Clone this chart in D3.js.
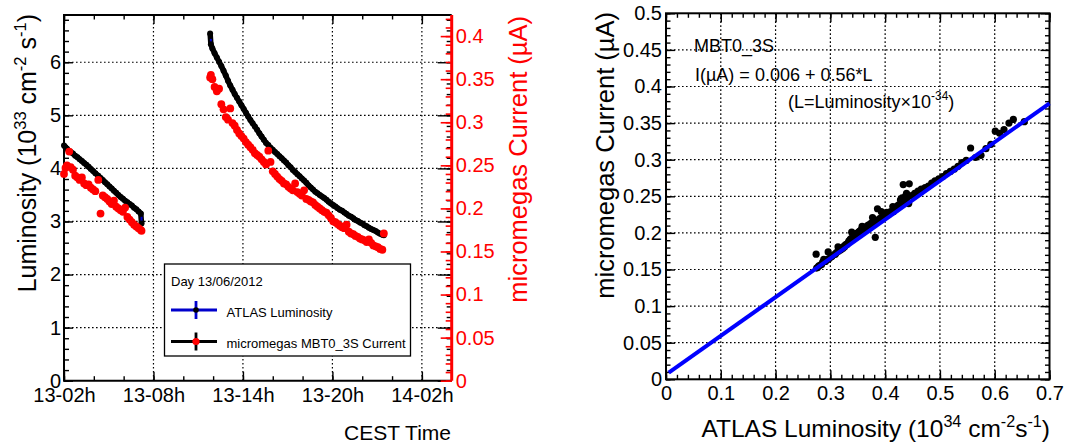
<!DOCTYPE html>
<html>
<head>
<meta charset="utf-8">
<script src="https://cdn.jsdelivr.net/npm/d3@7"></script>
<style>
body { margin: 0; background: #fff; }
svg text { font-family: 'Liberation Sans', Arial, Helvetica, sans-serif; }
</style>
</head>
<body>
<div id="chart"></div>
<script>
/* eslint-disable one-var */

// hours since 13/06/2012 00:00 CEST
var fill1Hours = [2.00, 2.10, 2.20, 2.35, 2.45, 2.60, 2.75, 2.90, 3.05, 3.20,
    3.35, 3.50, 3.65, 3.80, 3.95, 4.10, 4.30, 4.45, 4.60, 4.75,
    4.90, 5.05, 5.20, 5.35, 5.50, 5.65, 5.80, 5.95, 6.10, 6.25,
    6.40, 6.55, 6.70, 6.85, 7.00, 7.15, 7.20];
var fill1Lumi = [4.43, 4.40, 4.37, 4.33, 4.31, 4.28, 4.24, 4.21, 4.17, 4.14,
    4.10, 4.07, 4.03, 3.99, 3.95, 3.91, 3.86, 3.82, 3.78, 3.74,
    3.70, 3.66, 3.62, 3.58, 3.54, 3.50, 3.46, 3.43, 3.39, 3.36,
    3.33, 3.30, 3.26, 3.23, 3.19, 3.15, 2.96];
var fill1Current = [0.240, 0.247, 0.250, 0.266, 0.248, 0.245, 0.238, 0.236, 0.233, 0.236,
    0.229, 0.227, 0.228, 0.224, 0.222, 0.220, 0.233, 0.194, 0.215, 0.213,
    0.211, 0.208, 0.205, 0.209, 0.202, 0.200, 0.198, 0.196, 0.201, 0.190,
    0.187, 0.184, 0.181, 0.179, 0.177, 0.175, 0.174];

var fill2Hours = [11.80, 11.85, 11.95, 12.10, 12.25, 12.40, 12.55, 12.70, 12.85, 13.00,
    13.15, 13.30, 13.45, 13.60, 13.75, 13.90, 14.05, 14.20, 14.35, 14.50,
    14.65, 14.80, 14.95, 15.10, 15.25, 15.40, 15.55, 15.70, 15.85, 16.00,
    16.15, 16.30, 16.45, 16.60, 16.75, 16.90, 17.05, 17.20, 17.35, 17.50,
    17.65, 17.80, 17.95, 18.10, 18.25, 18.40, 18.55, 18.70, 18.85, 19.00,
    19.15, 19.30, 19.45, 19.60, 19.75, 19.90, 20.05, 20.20, 20.35, 20.50,
    20.65, 20.80, 20.95, 21.10, 21.25, 21.40, 21.55, 21.70, 21.85, 22.00,
    22.15, 22.30, 22.45, 22.60, 22.75, 22.90, 23.05, 23.20, 23.35, 23.45];
var fill2Lumi = [6.54, 6.34, 6.26, 6.17, 6.09, 6.01, 5.93, 5.84, 5.75, 5.65,
    5.56, 5.48, 5.40, 5.33, 5.26, 5.19, 5.12, 5.05, 4.98, 4.91,
    4.85, 4.79, 4.73, 4.66, 4.60, 4.54, 4.48, 4.44, 4.39, 4.35,
    4.31, 4.27, 4.23, 4.19, 4.15, 4.11, 4.06, 4.02, 3.97, 3.93,
    3.89, 3.85, 3.81, 3.77, 3.73, 3.68, 3.64, 3.60, 3.56, 3.53,
    3.50, 3.47, 3.44, 3.41, 3.37, 3.34, 3.31, 3.28, 3.25, 3.22,
    3.20, 3.17, 3.14, 3.11, 3.09, 3.06, 3.03, 3.01, 2.98, 2.96,
    2.93, 2.91, 2.88, 2.86, 2.84, 2.82, 2.79, 2.77, 2.75, 2.74];
var fill2Current = [0.352, 0.355, 0.350, 0.341, 0.336, 0.339, 0.321, 0.315, 0.306, 0.303,
    0.316, 0.299, 0.296, 0.291, 0.287, 0.284, 0.281, 0.277, 0.274, 0.271,
    0.268, 0.264, 0.262, 0.260, 0.257, 0.254, 0.251, 0.267, 0.254, 0.243,
    0.240, 0.237, 0.234, 0.232, 0.229, 0.228, 0.225, 0.223, 0.221, 0.229,
    0.219, 0.217, 0.215, 0.221, 0.211, 0.210, 0.208, 0.207, 0.204, 0.202,
    0.200, 0.198, 0.196, 0.195, 0.192, 0.189, 0.185, 0.184, 0.182, 0.180,
    0.178, 0.177, 0.181, 0.173, 0.171, 0.170, 0.168, 0.167, 0.165, 0.164,
    0.163, 0.161, 0.164, 0.160, 0.157, 0.156, 0.155, 0.153, 0.152, 0.171];

// blue error bars visible on the luminosity graph
var errHours = [7.20, 11.85];
var errLumi = [3.00, 6.34];
var errSize = [0.09, 0.10];

// linear fit drawn on the correlation plot (L in 1e34, current in uA)
var fitLine = [[0.005, 0.009], [0.7, 0.377]];

var timeTickHours = [2, 8, 14, 20, 26];
var lumiTicks = [0, 1, 2, 3, 4, 5, 6];
var currentTicks = [0, 0.05, 0.1, 0.15, 0.2, 0.25, 0.3, 0.35, 0.4];
var corrXTicks = [0, 0.1, 0.2, 0.3, 0.4, 0.5, 0.6, 0.7];
var corrYTicks = [0, 0.05, 0.1, 0.15, 0.2, 0.25, 0.3, 0.35, 0.4, 0.45, 0.5];

var legendTitle = 'Day 13/06/2012';
var legendLabels = ['ATLAS Luminosity', 'micromegas MBT0_3S Current'];

var FONT = "'Liberation Sans', Arial, Helvetica, sans-serif";
var TICK_FONT = 20;

function hourDate(h) {
    return new Date(2012, 5, 13, 0, 0, 0, 0).getTime() + h * 3600000;
}

function samples(hours, lumi, current) {
    return hours.map(function(h, i) {
        return { date: new Date(hourDate(h)), lumi: lumi[i], current: current[i] };
    });
}

var fills = [samples(fill1Hours, fill1Lumi, fill1Current),
    samples(fill2Hours, fill2Lumi, fill2Current)];
var allSamples = fills[0].concat(fills[1]);

var svg = d3.select('#chart')
    .append('svg')
    .attr('width', 1067)
    .attr('height', 445);

function richText(sel, parts, size) {
    parts.forEach(function(p, i) {
        var prevSup = i > 0 && parts[i - 1][1];
        var span = sel.append('tspan').text(p[0]);
        if (p[1]) {
            span.style('font-size', (size * 0.66) + 'px').attr('dy', -size * 0.42);
        } else if (prevSup) {
            span.attr('dy', size * 0.42);
        }
    });
}

function styleAxis(g, colour, width, showText) {
    g.attr('font-size', null).attr('font-family', null);
    g.select('.domain').remove();
    g.selectAll('.tick line').attr('stroke', colour).attr('stroke-width', width);
    if (showText) {
        g.selectAll('.tick text')
            .attr('fill', colour)
            .style('font-size', TICK_FONT + 'px')
            .style('font-family', FONT);
    } else {
        g.selectAll('.tick text').remove();
    }
}

function gridLines(g, data, x1, x2, y1, y2) {
    g.selectAll(null)
        .data(data)
        .enter()
        .append('line')
        .attr('x1', x1).attr('x2', x2)
        .attr('y1', y1).attr('y2', y2)
        .attr('stroke', '#000')
        .attr('stroke-width', 1.2)
        .attr('stroke-dasharray', '1.6,2.4');
}

// ---------------- left panel: time series ----------------
var L = { left: 64, right: 451.7, top: 15, bottom: 380.7 };

var xTime = d3.scaleTime()
    .domain([new Date(hourDate(2)), new Date(hourDate(28))])
    .range([L.left, L.right]);
var yLumi = d3.scaleLinear().domain([0, 6.89]).range([L.bottom, L.top]);
var yCur = d3.scaleLinear().domain([0, 0.4245]).range([L.bottom, L.top]);

var timeTicks = timeTickHours.map(function(h) { return new Date(hourDate(h)); });
var timeMinor = d3.timeHour.every(2).range(xTime.domain()[0], xTime.domain()[1]);

var left = svg.append('g');

gridLines(left, timeTicks.slice(1),
    function(d) { return xTime(d); }, function(d) { return xTime(d); },
    L.top, L.bottom);
gridLines(left, lumiTicks.slice(1),
    L.left, L.right,
    function(d) { return yLumi(d); }, function(d) { return yLumi(d); });

// bottom axis
left.append('g')
    .attr('transform', 'translate(0,' + L.bottom + ')')
    .call(d3.axisBottom(xTime).tickValues(timeMinor).tickSize(-4.5).tickFormat(''))
    .call(styleAxis, '#000', 1.4, false);
left.append('g')
    .attr('transform', 'translate(0,' + L.bottom + ')')
    .call(d3.axisBottom(xTime).tickValues(timeTicks).tickSize(-9).tickPadding(7)
        .tickFormat(d3.timeFormat('%d-%Hh')))
    .call(styleAxis, '#000', 1.4, true);
// top axis (ticks only)
left.append('g')
    .attr('transform', 'translate(0,' + L.top + ')')
    .call(d3.axisTop(xTime).tickValues(timeMinor).tickSize(-4.5).tickFormat(''))
    .call(styleAxis, '#000', 1.4, false);
left.append('g')
    .attr('transform', 'translate(0,' + L.top + ')')
    .call(d3.axisTop(xTime).tickValues(timeTicks).tickSize(-9).tickFormat(''))
    .call(styleAxis, '#000', 1.4, false);

// left luminosity axis
left.append('g')
    .attr('transform', 'translate(' + L.left + ',0)')
    .call(d3.axisLeft(yLumi).tickValues(d3.range(0, 6.81, 0.2)).tickSize(-5).tickFormat(''))
    .call(styleAxis, '#000', 1.4, false);
left.append('g')
    .attr('transform', 'translate(' + L.left + ',0)')
    .call(d3.axisLeft(yLumi).tickValues(lumiTicks).tickSize(-9).tickPadding(3)
        .tickFormat(d3.format('~g')))
    .call(styleAxis, '#000', 1.4, true);
// mirrored luminosity ticks on the right side
left.append('g')
    .attr('transform', 'translate(' + L.right + ',0)')
    .call(d3.axisRight(yLumi).tickValues(d3.range(0, 6.81, 0.2)).tickSize(-5).tickFormat(''))
    .call(styleAxis, '#000', 1.4, false);
left.append('g')
    .attr('transform', 'translate(' + L.right + ',0)')
    .call(d3.axisRight(yLumi).tickValues(lumiTicks).tickSize(-14).tickFormat(''))
    .call(styleAxis, '#000', 1.4, false);

// frame
left.append('path')
    .attr('d', 'M' + L.right + ',' + L.top + 'H' + L.left + 'V' + L.bottom + 'H' + L.right)
    .attr('fill', 'none')
    .attr('stroke', '#000')
    .attr('stroke-width', 2);

// red current axis
left.append('g')
    .attr('transform', 'translate(' + L.right + ',0)')
    .call(d3.axisRight(yCur).tickValues(d3.range(0, 0.421, 0.01)).tickSize(-6).tickFormat(''))
    .call(styleAxis, '#f00', 1.6, false);
left.append('g')
    .attr('transform', 'translate(' + L.right + ',0)')
    .call(d3.axisRight(yCur).tickValues(currentTicks).tickSize(-11).tickPadding(4)
        .tickFormat(d3.format('~g')))
    .call(styleAxis, '#f00', 1.6, true);
left.append('line')
    .attr('x1', L.right).attr('x2', L.right)
    .attr('y1', L.top).attr('y2', L.bottom)
    .attr('stroke', '#f00')
    .attr('stroke-width', 3);

// luminosity graph
var lumiLine = d3.line()
    .x(function(d) { return xTime(d.date); })
    .y(function(d) { return yLumi(d.lumi); });

left.append('g')
    .selectAll('path')
    .data(fills)
    .enter()
    .append('path')
    .attr('d', lumiLine)
    .attr('fill', 'none')
    .attr('stroke', '#000')
    .attr('stroke-width', 5.5);

left.append('g')
    .selectAll('line')
    .data(errHours)
    .enter()
    .append('line')
    .attr('x1', function(d) { return xTime(new Date(hourDate(d))); })
    .attr('x2', function(d) { return xTime(new Date(hourDate(d))); })
    .attr('y1', function(d, i) { return yLumi(errLumi[i] - errSize[i]); })
    .attr('y2', function(d, i) { return yLumi(errLumi[i] + errSize[i]); })
    .attr('stroke', '#0000cc')
    .attr('stroke-width', 2);

left.append('g')
    .selectAll('circle')
    .data(allSamples)
    .enter()
    .append('circle')
    .attr('cx', function(d) { return xTime(d.date); })
    .attr('cy', function(d) { return yLumi(d.lumi); })
    .attr('r', 3)
    .attr('fill', '#000');

// current graph
left.append('g')
    .selectAll('circle')
    .data(allSamples)
    .enter()
    .append('circle')
    .attr('cx', function(d) { return xTime(d.date); })
    .attr('cy', function(d) { return yCur(d.current); })
    .attr('r', 3.9)
    .attr('fill', '#f00');

// legend
var legend = left.append('g');
legend.append('rect')
    .attr('x', 164.5).attr('y', 264)
    .attr('width', 246).attr('height', 92)
    .attr('fill', '#fff')
    .attr('stroke', '#000')
    .attr('stroke-width', 1.3);
legend.append('text')
    .attr('x', 171).attr('y', 285.5)
    .style('font-size', '13px')
    .text(legendTitle);

var legendRows = [
    { label: legendLabels[0], line: '#0000cc', marker: '#000', r: 2.8, y: 310 },
    { label: legendLabels[1], line: '#000', marker: '#f00', r: 3.6, y: 341.5 }
];
var rows = legend.selectAll('.legend-row')
    .data(legendRows)
    .enter()
    .append('g')
    .classed('legend-row', true);
rows.append('line')
    .attr('x1', 171).attr('x2', 217)
    .attr('y1', function(d) { return d.y; }).attr('y2', function(d) { return d.y; })
    .attr('stroke', function(d) { return d.line; })
    .attr('stroke-width', 2.8);
rows.append('line')
    .attr('x1', 196).attr('x2', 196)
    .attr('y1', function(d) { return d.y - 9; }).attr('y2', function(d) { return d.y + 9; })
    .attr('stroke', function(d) { return d.line; })
    .attr('stroke-width', 2.8);
rows.append('circle')
    .attr('cx', 196)
    .attr('cy', function(d) { return d.y; })
    .attr('r', function(d) { return d.r; })
    .attr('fill', function(d) { return d.marker; });
rows.append('text')
    .attr('x', 226.5)
    .attr('y', function(d) { return d.y + 6.5; })
    .style('font-size', '13px')
    .text(function(d) { return d.label; });

// axis titles
var leftTitle = left.append('text')
    .attr('transform', 'translate(36,14) rotate(-90)')
    .attr('text-anchor', 'end')
    .style('font-size', '25px');
richText(leftTitle, [['Luminosity (10', false], ['33', true], [' cm', false], ['-2', true],
    [' s', false], ['-1', true], [')', false]], 25);

left.append('text')
    .attr('transform', 'translate(527,16) rotate(-90)')
    .attr('text-anchor', 'end')
    .attr('fill', '#f00')
    .style('font-size', '25.5px')
    .text('micromegas Current (\u00b5A)');

left.append('text')
    .attr('x', 451).attr('y', 440)
    .attr('text-anchor', 'end')
    .style('font-size', '21px')
    .text('CEST Time');

// ---------------- right panel: correlation ----------------
var R = { left: 666, right: 1049.5, top: 13.3, bottom: 379.3 };

var xCorr = d3.scaleLinear().domain([0, 0.7]).range([R.left, R.right]);
var yCorr = d3.scaleLinear().domain([0, 0.5]).range([R.bottom, R.top]);

var right = svg.append('g');

gridLines(right, corrXTicks.slice(1, -1),
    function(d) { return xCorr(d); }, function(d) { return xCorr(d); },
    R.top, R.bottom);
gridLines(right, corrYTicks.slice(1, -1),
    R.left, R.right,
    function(d) { return yCorr(d); }, function(d) { return yCorr(d); });

var corrXMinor = d3.range(0, 0.701, 0.02);
var corrYMinor = d3.range(0, 0.501, 0.01);

right.append('g')
    .attr('transform', 'translate(0,' + R.bottom + ')')
    .call(d3.axisBottom(xCorr).tickValues(corrXMinor).tickSize(-4.5).tickFormat(''))
    .call(styleAxis, '#000', 1.4, false);
right.append('g')
    .attr('transform', 'translate(0,' + R.bottom + ')')
    .call(d3.axisBottom(xCorr).tickValues(corrXTicks).tickSize(-9).tickPadding(7)
        .tickFormat(d3.format('~g')))
    .call(styleAxis, '#000', 1.4, true);
right.append('g')
    .attr('transform', 'translate(0,' + R.top + ')')
    .call(d3.axisTop(xCorr).tickValues(corrXMinor).tickSize(-4.5).tickFormat(''))
    .call(styleAxis, '#000', 1.4, false);
right.append('g')
    .attr('transform', 'translate(0,' + R.top + ')')
    .call(d3.axisTop(xCorr).tickValues(corrXTicks).tickSize(-9).tickFormat(''))
    .call(styleAxis, '#000', 1.4, false);
right.append('g')
    .attr('transform', 'translate(' + R.left + ',0)')
    .call(d3.axisLeft(yCorr).tickValues(corrYMinor).tickSize(-4.5).tickFormat(''))
    .call(styleAxis, '#000', 1.4, false);
right.append('g')
    .attr('transform', 'translate(' + R.left + ',0)')
    .call(d3.axisLeft(yCorr).tickValues(corrYTicks).tickSize(-9).tickPadding(4)
        .tickFormat(d3.format('~g')))
    .call(styleAxis, '#000', 1.4, true);
right.append('g')
    .attr('transform', 'translate(' + R.right + ',0)')
    .call(d3.axisRight(yCorr).tickValues(corrYMinor).tickSize(-4.5).tickFormat(''))
    .call(styleAxis, '#000', 1.4, false);
right.append('g')
    .attr('transform', 'translate(' + R.right + ',0)')
    .call(d3.axisRight(yCorr).tickValues(corrYTicks).tickSize(-9).tickFormat(''))
    .call(styleAxis, '#000', 1.4, false);

right.append('rect')
    .attr('x', R.left).attr('y', R.top)
    .attr('width', R.right - R.left).attr('height', R.bottom - R.top)
    .attr('fill', 'none')
    .attr('stroke', '#000')
    .attr('stroke-width', 2);

right.append('g')
    .selectAll('circle')
    .data(allSamples)
    .enter()
    .append('circle')
    .attr('cx', function(d) { return xCorr(d.lumi / 10); })
    .attr('cy', function(d) { return yCorr(d.current); })
    .attr('r', 3.6)
    .attr('fill', '#000');

right.append('path')
    .datum(fitLine)
    .attr('d', d3.line()
        .x(function(d) { return xCorr(d[0]); })
        .y(function(d) { return yCorr(d[1]); }))
    .attr('stroke', '#0000ff')
    .attr('stroke-width', 4);

// fit annotation
right.append('text')
    .attr('x', 694).attr('y', 52)
    .style('font-size', '18px')
    .text('MBT0_3S');
right.append('text')
    .attr('x', 695).attr('y', 81)
    .style('font-size', '18px')
    .text('I(\u00b5A) = 0.006 + 0.56*L');
var note = right.append('text')
    .attr('x', 788).attr('y', 108)
    .style('font-size', '18px');
richText(note, [['(L=Luminosity\u00d710', false], ['-34', true], [')', false]], 18);

right.append('text')
    .attr('transform', 'translate(614,12) rotate(-90)')
    .attr('text-anchor', 'end')
    .style('font-size', '25.5px')
    .text('micromegas Current (\u00b5A)');

var corrXTitle = right.append('text')
    .attr('x', 1050).attr('y', 437)
    .attr('text-anchor', 'end')
    .style('font-size', '24.5px');
richText(corrXTitle, [['ATLAS Luminosity (10', false], ['34', true], [' cm', false], ['-2', true],
    ['s', false], ['-1', true], [')', false]], 24.5);
</script>
</body>
</html>
